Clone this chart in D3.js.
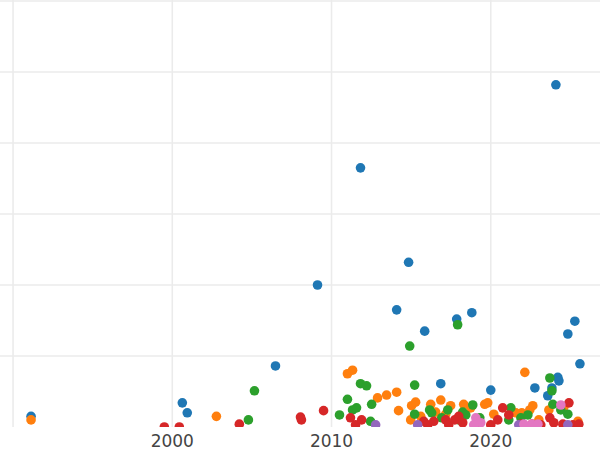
<!DOCTYPE html>
<html>
<head>
<meta charset="utf-8">
<script src="https://cdn.jsdelivr.net/npm/d3@7"></script>
<style>
  body { margin: 0; background: #fff; }
</style>
</head>
<body>
<div class="canvas"></div>
<script>
// [year, value]
const blue = [[1991.13,0.15],[2000.63,0.34],[2000.94,0.20],[2006.48,0.86],[2009.12,2.00],[2011.82,3.65],
  [2014.09,1.65],[2014.84,2.32],[2015.85,1.35],[2016.86,0.61],[2017.86,1.52],[2018.81,1.61],[2020.0,0.52],
  [2022.77,0.55],[2023.58,0.44],[2023.84,0.55],[2024.09,4.82],[2024.21,0.70],[2024.28,0.65],[2024.84,1.31],
  [2025.28,1.49],[2025.60,0.89]];
const orange = [[1991.13,0.10],[2002.77,0.15],[2011.0,0.75],[2011.32,0.80],[2012.89,0.41],[2013.46,0.45],
  [2014.09,0.49],[2014.21,0.23],[2015.03,0.30],[2015.28,0.35],[2015.60,0.15],[2016.23,0.32],[2016.54,0.21],
  [2016.86,0.38],[2017.17,0.18],[2017.48,0.30],[2018.30,0.32],[2018.74,0.27],[2019.62,0.32],[2019.81,0.34],
  [2020.19,0.18],[2021.57,0.20],[2021.95,0.20],[2022.14,0.77],[2022.45,0.24],[2022.64,0.30],[2023.02,0.10],
  [2023.65,0.24],[2024.59,0.28],[2025.47,0.08],[2014.97,0.10]];
const green = [[2004.78,0.10],[2005.16,0.51],[2010.50,0.17],[2011.0,0.39],[2011.32,0.24],[2011.57,0.27],
  [2011.82,0.61],[2012.20,0.58],[2012.45,0.08],[2012.52,0.32],[2014.91,1.14],[2015.22,0.59],[2015.22,0.18],
  [2016.16,0.24],[2016.29,0.20],[2016.92,0.13],[2017.30,0.24],[2017.92,1.44],[2017.99,0.10],[2018.24,0.21],
  [2018.43,0.17],[2018.87,0.31],[2019.31,0.13],[2021.13,0.10],[2021.26,0.27],[2021.89,0.13],[2022.33,0.17],
  [2023.71,0.69],[2023.84,0.51],[2023.90,0.32],[2024.40,0.24],[2024.84,0.18]];
const red = [[1999.50,0],[2000.44,0],[2004.21,0.04],[2008.05,0.14],[2008.11,0.10],[2009.50,0.23],[2011.19,0.13],
  [2011.51,0.03],[2011.89,0.10],[2015.79,0.08],[2016.04,0.03],[2016.42,0.08],[2017.17,0.10],[2017.36,0.03],
  [2017.74,0.10],[2017.99,0.15],[2018.24,0.06],[2019.06,0.04],[2020.0,0.03],[2020.44,0.10],[2020.75,0.27],
  [2021.13,0.17],[2021.89,0.04],[2022.58,0.04],[2023.14,0.03],[2023.71,0.13],[2023.96,0.06],[2024.53,0.04],
  [2024.91,0.34],[2025.16,0.03],[2025.53,0.04]];
const purple = [[2012.77,0.03],[2015.41,0.03],[2021.76,0.03],[2024.84,0.03]];
const pink = [[2019.06,0.13],[2019.37,0.06],[2018.93,0.03],[2022.08,0.04],[2022.58,0.04],[2022.96,0.04],[2024.40,0.31]];

const series = [
  { data: blue, color: '#1f77b4' },
  { data: orange, color: '#ff7f0e' },
  { data: green, color: '#2ca02c' },
  { data: red, color: '#d62728' },
  { data: purple, color: '#9467bd' },
  { data: pink, color: '#e377c2' }
];
const gridYears = [1990, 2000, 2010, 2020];
const labelYears = [2000, 2010, 2020];
const yTicks = [1, 2, 3, 4, 5, 6];

const width = 600, height = 450, plotBottom = 427;

const x = d3.scaleLinear().domain([1989.18, 2026.86]).range([0, width]);
const y = d3.scaleLinear().domain([0, 6]).range([plotBottom, 1]);

const svg = d3.select('.canvas')
  .append('svg')
  .attr('width', width)
  .attr('height', height)
  .style('font-family', 'DejaVu Sans');

svg.append('clipPath').attr('id', 'plot')
  .append('rect').attr('x', 0).attr('y', 0).attr('width', width).attr('height', plotBottom);

const grid = svg.append('g');
grid.selectAll('.vx').data(gridYears).join('line')
  .attr('x1', d => x(d)).attr('x2', d => x(d))
  .attr('y1', 0).attr('y2', plotBottom)
  .attr('stroke', '#ebebeb').attr('stroke-width', 1.6);
grid.selectAll('.hy').data(yTicks).join('line')
  .attr('x1', 0).attr('x2', width)
  .attr('y1', d => y(d)).attr('y2', d => y(d))
  .attr('stroke', '#ebebeb').attr('stroke-width', 1.6);

const pts = svg.append('g').attr('clip-path', 'url(#plot)');
series.forEach(s => {
  pts.append('g').selectAll('circle').data(s.data).join('circle')
    .attr('cx', d => x(d[0]))
    .attr('cy', d => y(d[1]))
    .attr('r', 4.8)
    .attr('fill', s.color);
});

svg.append('g').selectAll('text').data(labelYears).join('text')
  .attr('x', d => x(d))
  .attr('y', 447)
  .attr('text-anchor', 'middle')
  .attr('font-size', 17)
  .attr('fill', '#444')
  .text(d => d);
</script>
</body>
</html>
